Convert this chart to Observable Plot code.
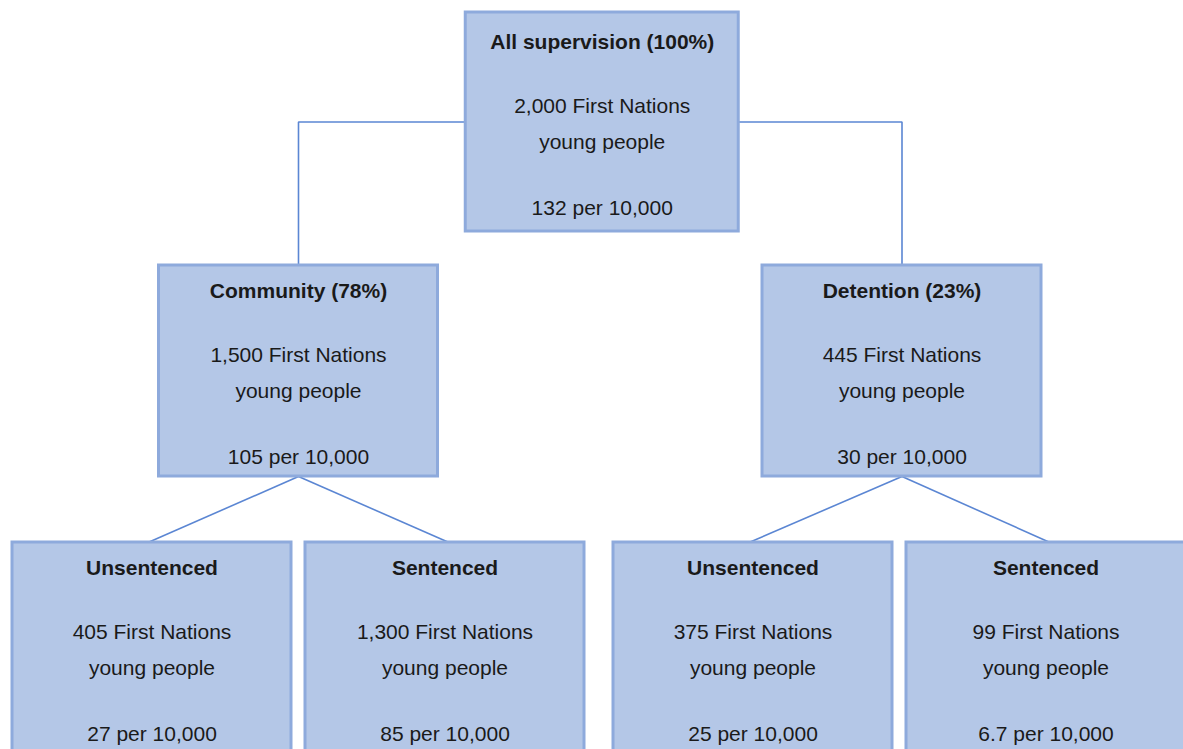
<!DOCTYPE html>
<html>
<head>
<meta charset="utf-8">
<script src="https://cdn.jsdelivr.net/npm/d3@7"></script>
<script src="https://cdn.jsdelivr.net/npm/@observablehq/plot@0.6"></script>
<style>
  html, body { margin: 0; padding: 0; background: #fff; }
  #chart svg { display: block; }
  #chart svg text { font-family: "Liberation Sans", Arial, sans-serif !important; }
</style>
</head>
<body>
<div id="chart"></div>
<script>
// ---- data ----
const nodeTitles = ["All supervision (100%)", "Community (78%)", "Detention (23%)", "Unsentenced", "Sentenced", "Unsentenced", "Sentenced"];
const nodeParents = [null, 0, 0, 1, 1, 2, 2];
const nodeCounts = [2000, 1500, 445, 405, 1300, 375, 99];
const nodeRates = ["132", "105", "30", "27", "85", "25", "6.7"];
const countLabel = "First Nations";
const countLabel2 = "young people";
const rateLabel = "per 10,000";

// ---- layout (derived from tree structure) ----
const W = 1183, H = 749;
const fmt = d3.format(",");
const nodes = nodeTitles.map((t, i) => ({
  id: i, title: t, parent: nodeParents[i],
  countText: `${fmt(nodeCounts[i])} ${countLabel}`,
  rateText: `${nodeRates[i]} ${rateLabel}`
}));
nodes.forEach(n => { n.children = nodes.filter(c => c.parent === n.id); });
nodes.forEach(n => { n.level = n.parent == null ? 0 : nodes[n.parent].level + 1; });
// leaves
const leafPitch = 293, groupGap = 15, leafX0 = 151.5;
const leaves = nodes.filter(n => n.children.length === 0);
const groups = [...new Set(leaves.map(l => l.parent))];
leaves.forEach((l, i) => { l.cx = leafX0 + i * leafPitch + groups.indexOf(l.parent) * groupGap; });
const levelShift = [2, 0, 0];
for (let lv = 1; lv >= 0; lv--) {
  nodes.filter(n => n.level === lv).forEach((n, k) => {
    n.cx = d3.mean(n.children, c => c.cx) + levelShift[lv] + (lv === 1 ? k * 2.5 : 0);
  });
}
const levelTop = [12, 265, 542];
const levelHeight = [219, 211, 230];
const levelWidth = [273, 279, 279];
const levelPad = [4, 0, 0];
nodes.forEach(n => {
  n.x1 = n.cx - levelWidth[n.level] / 2;
  n.x2 = n.cx + levelWidth[n.level] / 2;
  n.y1 = levelTop[n.level];
  n.y2 = n.y1 + levelHeight[n.level];
  n.ty = n.y1 + 26 + levelPad[n.level];
  n.l1 = n.y1 + 90 + levelPad[n.level];
  n.l2 = n.y1 + 126 + levelPad[n.level];
  n.ry = n.y1 + 192 + levelPad[n.level];
});
// links
const elbowLinks = [];
const diagLinks = [];
nodes.filter(n => n.parent != null).forEach(c => {
  const p = nodes[c.parent];
  if (p.level === 0) {
    const side = c.cx < p.cx ? p.x1 : p.x2;
    elbowLinks.push({x1: side, y1: (p.y1 + p.y2) / 2, x2: c.cx, y2: c.y1});
  } else {
    const dir = c.cx < p.cx ? -1 : 1;
    diagLinks.push({x1: p.cx, y1: p.y2, x2: c.cx + dir * 4, y2: c.y1});
  }
});

const font = "'Liberation Sans', Arial, sans-serif";
const lineColor = "#5b86d3";
const txt = "#1a1a1a";
const fs = 21;

const chart = Plot.plot({
  width: W, height: H,
  margin: 0,
  x: {domain: [0, W], range: [0, W], axis: null},
  y: {domain: [0, H], range: [0, H], axis: null},
  style: {fontFamily: font, background: "#fff"},
  marks: [
    Plot.link(elbowLinks, {x1: "x1", y1: "y1", x2: "x2", y2: "y2", curve: "step-after", stroke: lineColor, strokeWidth: 1.6}),
    Plot.link(diagLinks, {x1: "x1", y1: "y1", x2: "x2", y2: "y2", stroke: lineColor, strokeWidth: 1.6}),
    Plot.rect(nodes, {x1: "x1", x2: "x2", y1: "y1", y2: "y2", fill: "#b4c7e7", stroke: "#8eaadc", strokeWidth: 3}),
    Plot.text(nodes, {x: "cx", y: "ty", text: "title", fontWeight: "bold", fontSize: fs, fill: txt, lineAnchor: "middle", fontFamily: font}),
    Plot.text(nodes, {x: "cx", y: "l1", text: "countText", fontSize: fs, fill: txt, lineAnchor: "middle", fontFamily: font}),
    Plot.text(nodes, {x: "cx", y: "l2", text: () => countLabel2, fontSize: fs, fill: txt, lineAnchor: "middle", fontFamily: font}),
    Plot.text(nodes, {x: "cx", y: "ry", text: "rateText", fontSize: fs, fill: txt, lineAnchor: "middle", fontFamily: font})
  ]
});
document.getElementById("chart").appendChild(chart);
</script>
</body>
</html>
